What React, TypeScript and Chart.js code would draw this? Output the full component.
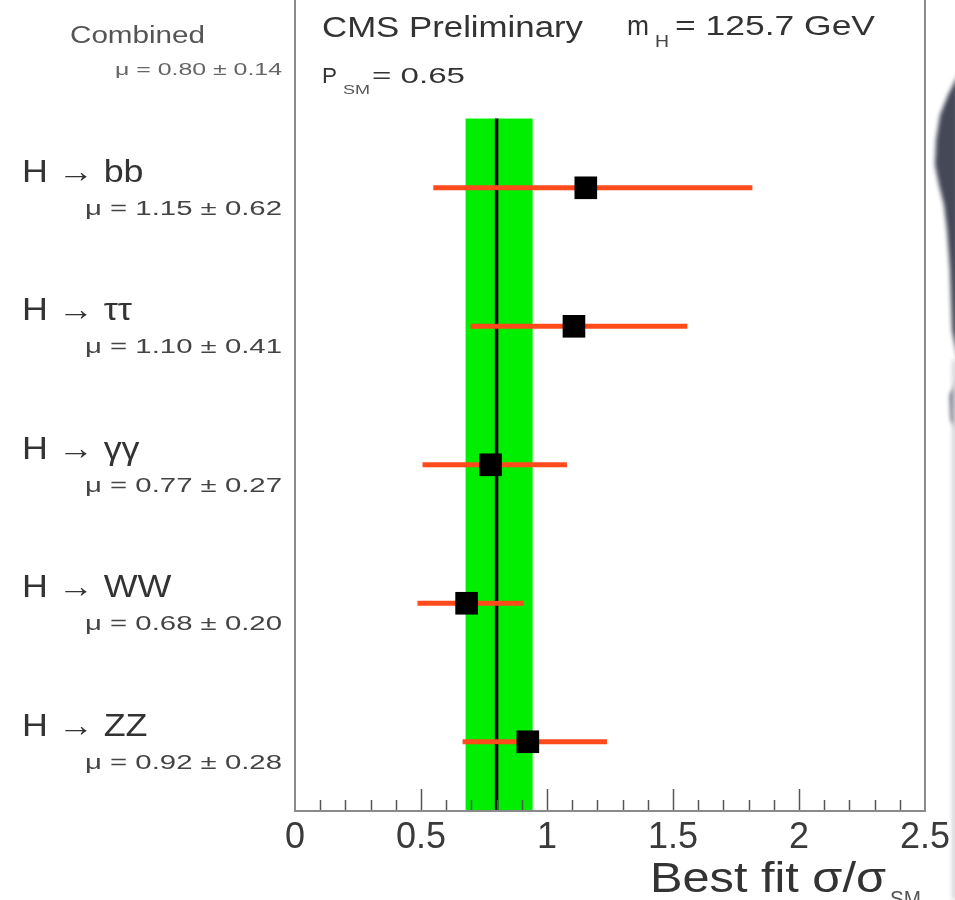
import React, { useEffect, useRef } from "react";
import { Chart, registerables } from "chart.js";

Chart.register(...registerables);

// ---- data ----
const channelTitles = ["H \u2192 bb", "H \u2192 \u03c4\u03c4", "H \u2192 \u03b3\u03b3", "H \u2192 WW", "H \u2192 ZZ"];
const muLabels = [
  "\u03bc = 1.15 \u00b1 0.62",
  "\u03bc = 1.10 \u00b1 0.41",
  "\u03bc = 0.77 \u00b1 0.27",
  "\u03bc = 0.68 \u00b1 0.20",
  "\u03bc = 0.92 \u00b1 0.28",
];
const rowPositions = [5, 4, 3, 2, 1];
const muCentral = [1.154, 1.107, 0.776, 0.681, 0.924];
const errLow = [0.549, 0.697, 0.506, 0.486, 0.665];
const errHigh = [1.815, 1.557, 1.079, 0.908, 1.238];

const combinedMu = 0.8;
const combinedLow = 0.677;
const combinedHigh = 0.943;
const combinedLabel = "\u03bc = 0.80 \u00b1 0.14";
const bandRowMin = 0.5;
const bandRowMax = 5.5;

const xTicks = [0, 0.5, 1, 1.5, 2, 2.5];
const xMin = 0;
const xMax = 2.5;
const yMin = 0.5;
const yMax = 6.356;

const FONT = '"Liberation Sans", Arial, Helvetica, sans-serif';

function drawText(
  ctx: CanvasRenderingContext2D,
  text: string,
  x: number,
  y: number,
  size: number,
  color: string,
  opts: { stretch?: number; width?: number; align?: CanvasTextAlign } = {}
) {
  ctx.save();
  ctx.font = `${size}px ${FONT}`;
  ctx.fillStyle = color;
  ctx.textBaseline = "alphabetic";
  const w = ctx.measureText(text).width;
  const s = opts.width ? opts.width / w : opts.stretch ?? 1;
  ctx.translate(x, y);
  ctx.scale(s, 1);
  ctx.textAlign = opts.align ?? "left";
  ctx.fillText(text, 0, 0);
  ctx.restore();
}

const bandPlugin = {
  id: "band",
  beforeDatasetsDraw(chart: any) {
    const { ctx, scales } = chart;
    const x0 = scales.x.getPixelForValue(combinedLow);
    const x1 = scales.x.getPixelForValue(combinedHigh);
    const y0 = scales.y.getPixelForValue(bandRowMax);
    const y1 = scales.y.getPixelForValue(bandRowMin);
    ctx.save();
    ctx.fillStyle = "#00ee00";
    ctx.fillRect(x0, y0, x1 - x0, y1 - y0);
    ctx.restore();
  },
};

const framePlugin = {
  id: "frame",
  afterDatasetsDraw(chart: any) {
    const { ctx, chartArea, scales } = chart;
    ctx.save();
    // ticks
    ctx.strokeStyle = "#555";
    ctx.lineWidth = 1.5;
    for (let i = 1; i < 25; i++) {
      const v = i / 10;
      const px = Math.round(scales.x.getPixelForValue(v)) + 0.5;
      const len = i % 5 === 0 ? 22 : 11;
      ctx.beginPath();
      ctx.moveTo(px, chartArea.bottom);
      ctx.lineTo(px, chartArea.bottom - len);
      ctx.stroke();
    }
    // frame
    ctx.strokeStyle = "#8a8a8a";
    ctx.lineWidth = 2;
    ctx.beginPath();
    ctx.moveTo(chartArea.left, 0);
    ctx.lineTo(chartArea.left, chartArea.bottom);
    ctx.lineTo(chartArea.right, chartArea.bottom);
    ctx.lineTo(chartArea.right, 0);
    ctx.stroke();
    ctx.restore();
  },
};

const textPlugin = {
  id: "texts",
  afterDraw(chart: any) {
    const { ctx, scales } = chart;
    // combined header
    drawText(ctx, "Combined", 70, 43, 23, "#555", { width: 135 });
    drawText(ctx, combinedLabel, 282, 75, 16, "#666", { width: 167, align: "right" });
    // top texts
    drawText(ctx, "CMS Preliminary", 322, 37, 29, "#333", { width: 261 });
    drawText(ctx, "m", 627, 35, 28, "#333", { width: 22 });
    drawText(ctx, "H", 655, 47, 16, "#444", { width: 14 });
    drawText(ctx, "= 125.7 GeV", 675, 35, 28, "#333", { width: 200 });
    drawText(ctx, "P", 322, 83, 22, "#333", { width: 15 });
    drawText(ctx, "SM", 343, 94, 12, "#555", { width: 27 });
    drawText(ctx, "= 0.65", 372, 83, 22, "#333", { width: 93 });
    // row labels
    rowPositions.forEach((r, i) => {
      const py = scales.y.getPixelForValue(r);
      drawText(ctx, channelTitles[i], 22, py - 6, 32, "#333", { stretch: 1.12 });
      drawText(ctx, muLabels[i], 282, py + 27, 20, "#444", { width: 197, align: "right" });
    });
    // axis title
    drawText(ctx, "Best fit \u03c3/\u03c3", 886, 892, 43, "#333", { width: 236, align: "right" });
    drawText(ctx, "SM", 890, 906, 22, "#555", { width: 31 });
    // photo artefact at right edge
    ctx.save();
    ctx.filter = "blur(2px)";
    ctx.fillStyle = "#454857";
    ctx.beginPath();
    ctx.moveTo(958, 75);
    ctx.lineTo(948, 95);
    ctx.lineTo(940, 115);
    ctx.lineTo(936, 140);
    ctx.lineTo(935, 165);
    ctx.lineTo(939, 185);
    ctx.lineTo(944, 205);
    ctx.lineTo(947, 230);
    ctx.lineTo(950, 270);
    ctx.lineTo(952, 330);
    ctx.lineTo(958, 360);
    ctx.closePath();
    ctx.fill();
    ctx.beginPath();
    ctx.moveTo(958, 380);
    ctx.lineTo(950, 395);
    ctx.lineTo(951, 420);
    ctx.lineTo(958, 430);
    ctx.closePath();
    ctx.fill();
    ctx.fillStyle = "#d8d8dc";
    ctx.fillRect(952, 360, 6, 540);
    ctx.restore();
  },
};

export default function App() {
  const canvasRef = useRef<HTMLCanvasElement | null>(null);

  useEffect(() => {
    if (!canvasRef.current) return;
    const errorSets = rowPositions.map((r, i) => ({
      label: `err${i}`,
      data: [
        { x: errLow[i], y: r },
        { x: errHigh[i], y: r },
      ],
      showLine: true,
      borderColor: "#ff4a1c",
      borderWidth: 5,
      pointRadius: 0,
      borderCapStyle: "butt",
    }));
    const chart = new Chart(canvasRef.current, {
      type: "scatter",
      data: {
        datasets: [
          {
            label: "markers",
            data: rowPositions.map((r, i) => ({ x: muCentral[i], y: r })),
            pointStyle: "rect",
            pointRadius: 16,
            backgroundColor: "#000",
            borderWidth: 0,
          } as any,
          ...(errorSets as any[]),
          {
            label: "combined",
            data: [
              { x: combinedMu, y: bandRowMin },
              { x: combinedMu, y: bandRowMax },
            ],
            showLine: true,
            borderColor: "#000",
            borderWidth: 3.5,
            pointRadius: 0,
          },
        ],
      },
      options: {
        responsive: false,
        animation: false,
        devicePixelRatio: 1,
        layout: { autoPadding: false, padding: { left: 295, right: 30, top: 0, bottom: 0 } },
        plugins: { legend: { display: false }, tooltip: { enabled: false } },
        scales: {
          x: {
            type: "linear",
            min: xMin,
            max: xMax,
            grid: { display: false, drawTicks: false },
            border: { display: false },
            afterBuildTicks: (scale: any) => {
              scale.ticks = xTicks.map((v) => ({ value: v }));
            },
            afterFit: (scale: any) => {
              scale.height = 89;
            },
            ticks: {
              padding: 5,
              color: "#3a3a3a",
              font: { family: FONT, size: 36 },
              maxRotation: 0,
              autoSkip: false,
              callback: (v: any) => String(v),
            },
          },
          y: {
            type: "linear",
            min: yMin,
            max: yMax,
            display: false,
          },
        },
      },
      plugins: [bandPlugin, framePlugin, textPlugin],
    });
    return () => chart.destroy();
  }, []);

  return (
    <div style={{ position: "absolute", left: 0, top: 0, width: 955, height: 900, background: "#fff" }}>
      <canvas ref={canvasRef} width={955} height={900} style={{ display: "block" }} />
    </div>
  );
}
